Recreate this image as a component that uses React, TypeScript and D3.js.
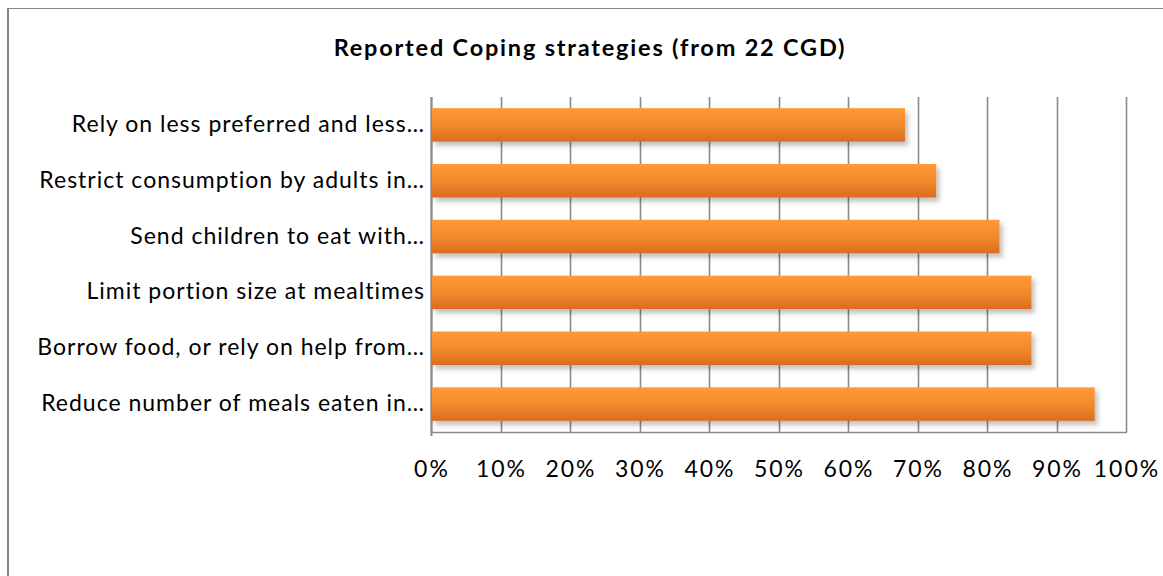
import React from "react";
import * as d3 from "d3";

const categories = [
  "Rely on less preferred and less…",
  "Restrict consumption by adults in…",
  "Send children to eat with…",
  "Limit portion size at mealtimes",
  "Borrow food, or rely on help from…",
  "Reduce number of meals eaten in…",
];
const values = [0.682, 0.727, 0.818, 0.864, 0.864, 0.955];
const ticks = [0, 0.1, 0.2, 0.3, 0.4, 0.5, 0.6, 0.7, 0.8, 0.9, 1.0];
const title = "Reported Coping strategies (from 22 CGD)";

const W = 1163;
const H = 576;
const FONT = "Lato, 'Open Sans', sans-serif";

export default function App() {
  const x = d3.scaleLinear().domain([0, 1]).range([431, 1126]);
  const y = d3
    .scaleBand<string>()
    .domain(categories)
    .range([97, 432])
    .paddingInner(0.4)
    .paddingOuter(0.2);
  const fmt = d3.format(".0%");

  return (
    <svg
      width={W}
      height={H}
      style={{ position: "absolute", left: 0, top: 0, background: "#fff" }}
    >
      <defs>
        <linearGradient id="barGrad" x1="0" y1="0" x2="0" y2="1">
          <stop offset="0" stopColor="#FF9A35" />
          <stop offset="0.5" stopColor="#F38A2C" />
          <stop offset="1" stopColor="#D96C1F" />
        </linearGradient>
        <filter id="shadow" x="-5%" y="-30%" width="115%" height="180%">
          <feDropShadow dx="3" dy="4" stdDeviation="2.5" floodColor="#000" floodOpacity="0.25" />
        </filter>
      </defs>
      <rect x={0} y={0} width={W} height={H} fill="#fff" />
      {/* outer chart border (partially cropped) */}
      <line x1={8} y1={8} x2={8} y2={576} stroke="#868686" strokeWidth={2} />
      <line x1={7} y1={8.5} x2={1163} y2={8.5} stroke="#868686" strokeWidth={1} />

      <text
        x={590}
        y={56}
        textAnchor="middle"
        fontFamily={FONT}
        fontWeight="bold"
        fontSize={23.5}
        letterSpacing={1.8}
        fill="#000"
      >
        {title}
      </text>

      {/* gridlines */}
      {ticks.map((t) => (
        <line
          key={"g" + t}
          x1={Math.round(x(t)) + 0.5}
          x2={Math.round(x(t)) + 0.5}
          y1={97}
          y2={432}
          stroke="#8A8A8A"
          strokeWidth={1.6}
        />
      ))}
      {/* axis baseline */}
      <line x1={x(0)} x2={x(1) + 1} y1={432.5} y2={432.5} stroke="#8A8A8A" strokeWidth={1.6} />
      {/* left axis */}
      <line x1={x(0) + 0.5} x2={x(0) + 0.5} y1={97} y2={436} stroke="#8A8A8A" strokeWidth={2} />

      {/* bars */}
      {categories.map((c, i) => (
        <rect
          key={"b" + c}
          x={x(0) + 1}
          y={y(c)}
          width={x(values[i]) - x(0) - 1}
          height={y.bandwidth()}
          fill="url(#barGrad)"
          filter="url(#shadow)"
        />
      ))}

      {/* category labels */}
      {categories.map((c) => (
        <text
          key={"l" + c}
          x={425}
          y={(y(c) as number) + y.bandwidth() / 2 + 7}
          textAnchor="end"
          fontFamily={FONT}
          fontSize={23}
          letterSpacing={1.0}
          fill="#000"
        >
          {c}
        </text>
      ))}

      {/* tick labels */}
      {ticks.map((t) => (
        <text
          key={"tl" + t}
          x={x(t) + 1}
          y={477}
          textAnchor="middle"
          fontFamily={FONT}
          fontSize={23}
          letterSpacing={2}
          fill="#000"
        >
          {fmt(t)}
        </text>
      ))}
    </svg>
  );
}
